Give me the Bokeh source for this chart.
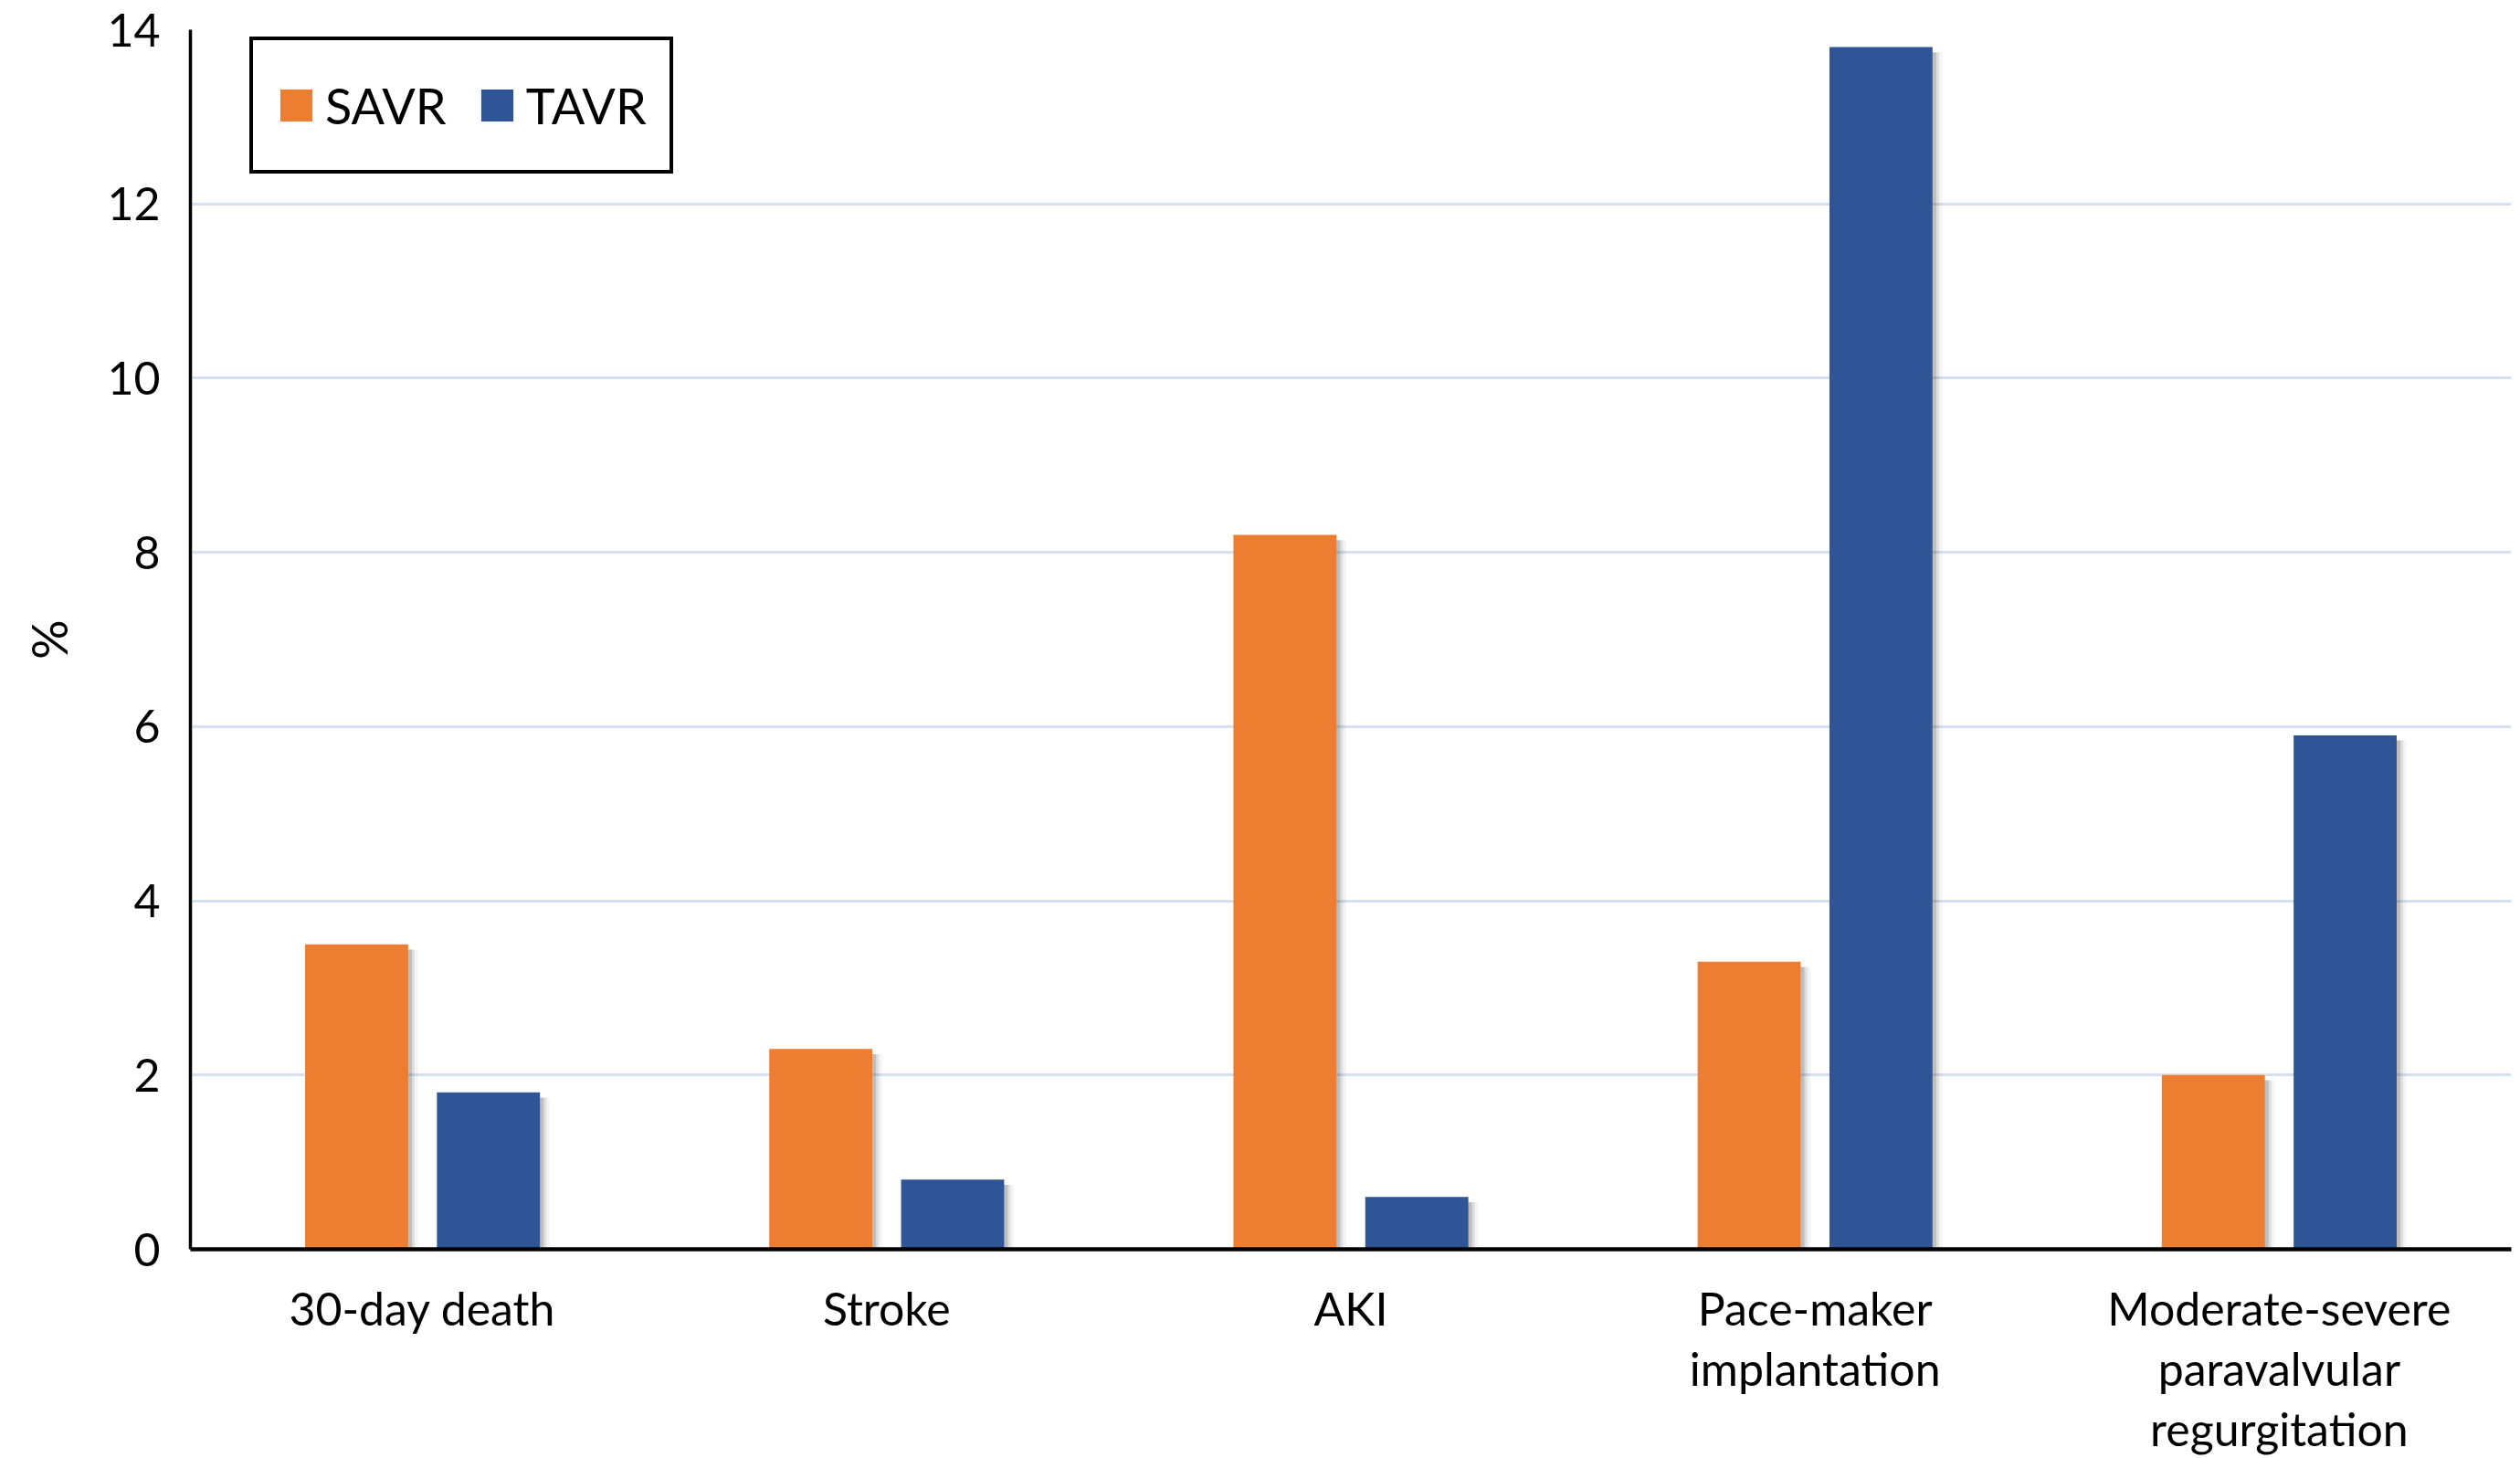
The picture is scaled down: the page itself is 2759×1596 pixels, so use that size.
from bokeh.plotting import figure
from bokeh.models import FactorRange, Range1d, Legend, LegendItem, FixedTicker, ColumnDataSource
from bokeh.transform import dodge
from bokeh.embed import file_html
from bokeh.resources import INLINE

categories = ["30-day death", "Stroke", "AKI", "Pace-maker\nimplantation",
              "Moderate-severe\nparavalvular\nregurgitation"]
savr = [3.5, 2.3, 8.2, 3.3, 2.0]
tavr = [1.8, 0.8, 0.6, 13.8, 5.9]
y_ticks = [0, 2, 4, 6, 8, 10, 12, 14]

ORANGE = "#ED7D31"
BLUE = "#2F5597"
FONT = "Lato"
FS = "50px"

src = ColumnDataSource(dict(
    cat=categories, savr=savr, tavr=tavr,
    savr_sh=[v - 0.06 for v in savr], tavr_sh=[v - 0.06 for v in tavr],
))

p = figure(
    x_range=FactorRange(*categories), y_range=Range1d(0, 14),
    width=2759, height=1596, output_backend="svg", toolbar_location=None,
    min_border_left=208, min_border_right=10, min_border_top=32, min_border_bottom=225,
)
p.outline_line_color = None
p.background_fill_color = "white"

bw = 0.222
off = 0.142
# soft shadows
for dx, a in [(0.008, 0.20), (0.014, 0.12), (0.021, 0.06)]:
    p.vbar(x=dodge("cat", -off + dx, range=p.x_range), top="savr_sh", width=bw, source=src,
           fill_color="#404040", fill_alpha=a, line_color=None)
    p.vbar(x=dodge("cat", off + dx, range=p.x_range), top="tavr_sh", width=bw, source=src,
           fill_color="#404040", fill_alpha=a, line_color=None)

r1 = p.vbar(x=dodge("cat", -off, range=p.x_range), top="savr", width=bw, source=src,
            fill_color=ORANGE, line_color=None)
r2 = p.vbar(x=dodge("cat", off, range=p.x_range), top="tavr", width=bw, source=src,
            fill_color=BLUE, line_color=None)

# grid
p.xgrid.grid_line_color = None
p.ygrid.ticker = FixedTicker(ticks=y_ticks)
p.ygrid.grid_line_color = "#D6DFF0"
p.ygrid.grid_line_width = 3

# y axis
p.yaxis.ticker = FixedTicker(ticks=y_ticks)
ya = p.yaxis[0]
ya.major_tick_line_color = None
ya.minor_tick_line_color = None
ya.axis_line_color = "black"
ya.axis_line_width = 3.5
ya.major_label_text_font = FONT
ya.major_label_text_font_size = FS
ya.major_label_text_color = "black"
ya.major_label_standoff = 27
ya.axis_label = "%"
ya.axis_label_text_font = FONT
ya.axis_label_text_font_size = "54px"
ya.axis_label_text_font_style = "normal"
ya.axis_label_text_color = "black"
ya.axis_label_standoff = 28

# x axis
xa = p.xaxis[0]
xa.major_tick_line_color = None
xa.minor_tick_line_color = None
xa.axis_line_color = "black"
xa.axis_line_width = 4.5
xa.major_label_text_font = FONT
xa.major_label_text_font_size = FS
xa.major_label_text_color = "black"
xa.major_label_standoff = 28
xa.major_label_orientation = "horizontal"
xa.major_label_text_line_height = 1.1

legend = Legend(
    items=[LegendItem(label="SAVR", renderers=[r1]), LegendItem(label="TAVR", renderers=[r2])],
    orientation="horizontal", location=(65, 1177),
    border_line_color="black", border_line_alpha=1.0, border_line_width=4,
    background_fill_color="white", background_fill_alpha=1.0,
    glyph_width=44, glyph_height=44, label_standoff=10, spacing=33, padding=25,
    label_height=92, label_text_font=FONT, label_text_font_size="54px",
    label_text_color="black", margin=0,
)
p.add_layout(legend, "center")

open("out.html", "w").write(file_html(p, INLINE))
